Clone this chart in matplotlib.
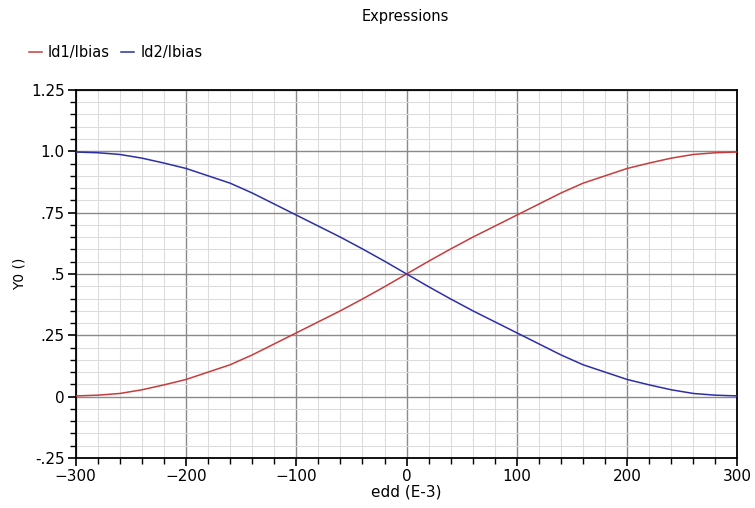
import matplotlib
matplotlib.use("Agg")
import matplotlib.pyplot as plt
from matplotlib.ticker import MultipleLocator, FixedLocator, FixedFormatter

# Data (edd in E-3, i.e. mV)
edd = [-300, -280, -260, -240, -220, -200, -180, -160, -140, -120, -100, -80, -60, -40, -20,
       0, 20, 40, 60, 80, 100, 120, 140, 160, 180, 200, 220, 240, 260, 280, 300]
id1_ibias = [0.003, 0.006, 0.013, 0.028, 0.048, 0.070, 0.100, 0.130, 0.170, 0.215, 0.260,
             0.305, 0.350, 0.398, 0.448, 0.500, 0.552, 0.602, 0.650, 0.695, 0.740, 0.785,
             0.830, 0.870, 0.900, 0.930, 0.952, 0.972, 0.987, 0.994, 0.997]
id2_ibias = [0.997, 0.994, 0.987, 0.972, 0.952, 0.930, 0.900, 0.870, 0.830, 0.785, 0.740,
             0.695, 0.650, 0.602, 0.552, 0.500, 0.448, 0.398, 0.350, 0.305, 0.260, 0.215,
             0.170, 0.130, 0.100, 0.070, 0.048, 0.028, 0.013, 0.006, 0.003]

x_ticks = [-300, -200, -100, 0, 100, 200, 300]
x_tick_labels = ["\u2212300", "\u2212200", "\u2212100", "0", "100", "200", "300"]
y_ticks = [-0.25, 0, 0.25, 0.5, 0.75, 1.0, 1.25]
y_tick_labels = ["-.25", "0", ".25", ".5", ".75", "1.0", "1.25"]

fig = plt.figure(figsize=(7.55, 5.08), dpi=100)
ax = fig.add_axes([0.1003, 0.0984, 0.8765, 0.7246])

ax.plot(edd, id1_ibias, color="#c83c3c", lw=1.1, label="Id1/Ibias", zorder=3)
ax.plot(edd, id2_ibias, color="#2e2ea8", lw=1.1, label="Id2/Ibias", zorder=3)

ax.set_xlim(-300, 300)
ax.set_ylim(-0.25, 1.25)
ax.xaxis.set_major_locator(FixedLocator(x_ticks))
ax.xaxis.set_major_formatter(FixedFormatter(x_tick_labels))
ax.yaxis.set_major_locator(FixedLocator(y_ticks))
ax.yaxis.set_major_formatter(FixedFormatter(y_tick_labels))
ax.xaxis.set_minor_locator(MultipleLocator(20))
ax.yaxis.set_minor_locator(MultipleLocator(0.05))

ax.grid(which="major", color="#8a8a8a", lw=1.0, zorder=1)
ax.grid(which="minor", color="#dcdcdc", lw=0.8, zorder=0)
ax.set_axisbelow(True)

ax.tick_params(which="major", direction="out", length=6, width=1.2, labelsize=11, colors="black", pad=2)
ax.tick_params(which="minor", direction="out", length=4, width=1.0)
for s in ax.spines.values():
    s.set_color("black")
    s.set_linewidth(1.3)

ax.set_xlabel("edd (E-3)", fontsize=11, labelpad=0)
ax.set_ylabel("Y0 ()", fontsize=10, labelpad=3)

fig.text(0.537, 0.968, "Expressions", ha="center", va="center", fontsize=10.5)
fig.legend(loc="center left", bbox_to_anchor=(0.038, 0.897), ncol=2, frameon=False,
           fontsize=10.5, handlelength=0.9, handletextpad=0.4, columnspacing=0.8,
           borderaxespad=0, borderpad=0)

fig.savefig("out.png", dpi=100)
